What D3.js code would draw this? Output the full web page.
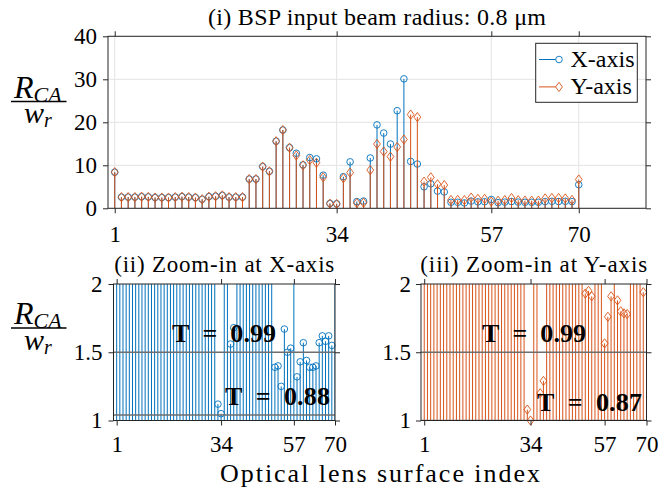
<!DOCTYPE html>
<html><head><meta charset="utf-8">
<script src="https://cdn.jsdelivr.net/npm/d3@7"></script>
<style>
body{margin:0;background:#fff}
svg{display:block}
text{font-family:"Liberation Serif","Times New Roman",serif;fill:#000}
</style>
</head><body>
<svg id="c" width="661" height="489"></svg>
<script>
// ---------- data ----------
const surfaceIndex = [1,2,3,4,5,6,7,8,9,10,11,12,13,14,15,16,17,18,19,20,21,22,23,24,25,26,27,28,29,30,31,32,33,34,35,36,37,38,39,40,41,42,43,44,45,46,47,48,49,50,51,52,53,54,55,56,57,58,59,60,61,62,63,64,65,66,67,68,69,70];
const xAxisRatio = [8.4,2.6,2.6,2.6,2.7,2.65,2.5,2.5,2.5,2.6,2.7,2.6,2.5,2.1,2.7,2.8,3.0,2.6,2.6,2.6,
  6.8,6.8,9.7,8.6,15.6,18.2,14.1,12.8,10.1,11.8,11.5,7.7,1.12,1.05,7.35,10.8,1.56,1.68,11.7,19.4,
  17.5,14.95,22.7,30.1,10.9,10.3,5.0,5.7,4.0,3.8,1.39,1.40,1.25,1.67,1.50,1.53,2.05,1.32,1.43,1.57,
  1.44,1.39,1.39,1.40,1.57,1.62,1.58,1.62,1.55,5.5];
const yAxisRatio = [8.4,2.6,2.6,2.6,2.7,2.65,2.5,2.5,2.5,2.6,2.7,2.6,2.5,2.1,2.7,2.8,3.0,2.6,2.6,2.6,
  6.8,6.8,9.7,8.6,15.6,18.2,14.1,12.3,10.0,11.2,10.6,7.2,1.08,1.0,7.0,8.3,1.20,1.29,8.9,14.95,
  13.2,12.0,14.25,16.0,21.8,21.2,6.2,7.2,5.6,5.4,1.93,1.95,1.91,2.5,2.2,2.2,1.565,1.76,1.91,2.4,
  1.88,1.80,1.785,1.78,2.3,2.4,2.4,2.3,1.94,6.7];
const xTickValues = [1,34,57,70];
const topYTicks = [0,10,20,30,40];
const zoomYTicks = [1,1.5,2];
const seriesNames = ["X-axis","Y-axis"];
const thresholdXValues = [1.5,1.04];
const thresholdXLabels = ["T\u2002=\u20020.99","T\u2002=\u20020.88"];
const thresholdYValues = [1.5,1.0];
const thresholdYLabels = ["T\u2002=\u20020.99","T\u2002=\u20020.87"];

// ---------- style ----------
const BLUE="#0072BD", ORANGE="#D95319", AX="#262626", GRID="#e3e3e3", THR="#6e6e6e";
const svg=d3.select("#c");
const defs=svg.append("defs");
const diamond="M0,-4.6L3.4,0L0,4.6L-3.4,0Z";

function drawPanel(cfg){
  const g=svg.append("g");
  const x=d3.scaleLinear().domain(cfg.xDomain).range([cfg.left,cfg.right]);
  const y=d3.scaleLinear().domain(cfg.yDomain).range([cfg.bottom,cfg.top]);
  const cid="clip"+cfg.id;
  defs.append("clipPath").attr("id",cid).append("rect")
    .attr("x",cfg.left).attr("y",cfg.top).attr("width",cfg.right-cfg.left).attr("height",cfg.bottom-cfg.top);
  if(cfg.grid){
    const gg=g.append("g");
    gg.selectAll("line.gx").data(xTickValues).join("line").attr("class","gx")
      .attr("x1",d=>x(d)).attr("x2",d=>x(d)).attr("y1",cfg.top).attr("y2",cfg.bottom)
      .attr("stroke",GRID).attr("stroke-width",1);
    gg.selectAll("line.gy").data(cfg.yTicks).join("line").attr("class","gy")
      .attr("x1",cfg.left).attr("x2",cfg.right).attr("y1",d=>y(d)).attr("y2",d=>y(d))
      .attr("stroke",GRID).attr("stroke-width",1);
  }
  cfg.series.forEach(s=>{
    const pts=s.values.map((v,i)=>({i:surfaceIndex[i],v}));
    g.append("g").attr("clip-path",`url(#${cid})`)
      .selectAll("line").data(pts).join("line")
      .attr("x1",d=>x(d.i)).attr("x2",d=>x(d.i))
      .attr("y1",y(0)).attr("y2",d=>y(d.v))
      .attr("stroke",s.color).attr("stroke-width",1);
    const inRange=pts.filter(d=>d.v>=cfg.yDomain[0]&&d.v<=cfg.yDomain[1]);
    const mg=g.append("g");
    if(s.marker==="circle"){
      mg.selectAll("circle").data(inRange).join("circle")
        .attr("cx",d=>x(d.i)).attr("cy",d=>y(d.v)).attr("r",3.3)
        .attr("fill","none").attr("stroke",s.color).attr("stroke-width",0.9);
    } else {
      mg.selectAll("path").data(inRange).join("path")
        .attr("transform",d=>`translate(${x(d.i)},${y(d.v)})`).attr("d",diamond)
        .attr("fill","none").attr("stroke",s.color).attr("stroke-width",0.9);
    }
  });
  if(cfg.thresholds){
    const tg=g.append("g").attr("clip-path",`url(#${cid})`);
    tg.selectAll("line").data(cfg.thresholds.values).join("line")
      .attr("x1",cfg.left).attr("x2",cfg.right).attr("y1",d=>y(d)).attr("y2",d=>y(d))
      .attr("stroke",THR).attr("stroke-width",1.6);
    const lg=g.append("g");
    cfg.thresholds.labels.forEach((t,k)=>{
      const p=cfg.thresholds.pos[k];
      lg.append("text").attr("x",p[0]).attr("y",p[1]).attr("text-anchor","start")
        .attr("font-weight","bold").attr("font-size",26)
        .attr("textLength",p[2]).attr("lengthAdjust","spacing").text(t);
    });
  }
  const styleAxis=(sel)=>{
    sel.select(".domain").remove();
    sel.selectAll(".tick line").attr("stroke",AX);
    sel.selectAll(".tick text").attr("font-family",'"Liberation Serif","Times New Roman",serif')
      .attr("font-size",23).attr("fill","#000");
    sel.attr("font-family",null).attr("font-size",null);
  };
  g.append("g").attr("transform",`translate(0,${cfg.bottom})`)
    .call(d3.axisBottom(x).tickValues(xTickValues).tickSize(5).tickPadding(cfg.xPad).tickFormat(d3.format("d")))
    .call(styleAxis);
  g.append("g").attr("transform",`translate(0,${cfg.top})`)
    .call(d3.axisTop(x).tickValues(xTickValues).tickSize(5).tickFormat(""))
    .call(styleAxis);
  g.append("g").attr("transform",`translate(${cfg.left},0)`)
    .call(d3.axisLeft(y).tickValues(cfg.yTicks).tickSize(5).tickPadding(cfg.yPad).tickFormat(d=>String(d)))
    .call(styleAxis);
  g.append("g").attr("transform",`translate(${cfg.right},0)`)
    .call(d3.axisRight(y).tickValues(cfg.yTicks).tickSize(5).tickFormat(""))
    .call(styleAxis);
  g.append("rect").attr("x",cfg.left).attr("y",cfg.top)
    .attr("width",cfg.right-cfg.left).attr("height",cfg.bottom-cfg.top)
    .attr("fill","none").attr("stroke",AX).attr("stroke-width",1);
  if(cfg.title){
    g.append("text").attr("x",(cfg.left+cfg.right)/2).attr("y",cfg.titleY)
      .attr("text-anchor","middle").attr("font-size",cfg.titleSize)
      .attr("textLength",cfg.titleLen).attr("lengthAdjust","spacing").text(cfg.title);
  }
  return {x,y,g};
}

const seriesAll=[
  {name:seriesNames[0],values:xAxisRatio,color:BLUE,marker:"circle"},
  {name:seriesNames[1],values:yAxisRatio,color:ORANGE,marker:"diamond"}
];

// top panel
drawPanel({id:"t",left:108,right:646,top:36.3,bottom:208.3,xDomain:[0,80],yDomain:[0,40],
  yTicks:topYTicks,grid:true,series:seriesAll,yPad:6,xPad:12,
  title:"(i) BSP input beam radius: 0.8 \u03BCm",titleY:25,titleSize:24,titleLen:338});

// legend
const legendG=svg.append("g");
legendG.append("rect").attr("x",535.7).attr("y",43.3).attr("width",101.6).attr("height",59)
  .attr("fill","#fff").attr("stroke",AX).attr("stroke-width",1);
seriesAll.forEach((s,k)=>{
  const cy=59.5+k*27.4;
  legendG.append("line").attr("x1",539).attr("x2",562).attr("y1",cy).attr("y2",cy).attr("stroke",s.color).attr("stroke-width",1);
  if(s.marker==="circle") legendG.append("circle").attr("cx",559).attr("cy",cy).attr("r",3.3).attr("fill","#fff").attr("stroke",s.color).attr("stroke-width",0.9);
  else legendG.append("path").attr("transform",`translate(559,${cy})`).attr("d",diamond).attr("fill","#fff").attr("stroke",s.color).attr("stroke-width",0.9);
  legendG.append("text").attr("x",570.5).attr("y",cy+7.5).attr("font-size",24).text(s.name);
});

// bottom-left panel
drawPanel({id:"bl",left:113.5,right:335,top:284,bottom:420.5,xDomain:[0,70],yDomain:[1,2],
  yTicks:zoomYTicks,grid:false,series:[seriesAll[0]],yPad:6,xPad:10,
  thresholds:{values:thresholdXValues,labels:thresholdXLabels,pos:[[172,342,104],[225,404.5,105]]},
  title:"(ii) Zoom-in at X-axis",titleY:272,titleSize:23,titleLen:220});

// bottom-right panel
drawPanel({id:"br",left:421,right:646.5,top:284,bottom:420.5,xDomain:[0,70],yDomain:[1,2],
  yTicks:zoomYTicks,grid:false,series:[seriesAll[1]],yPad:5,xPad:10,
  thresholds:{values:thresholdYValues,labels:thresholdYLabels,pos:[[482,342,104],[537,411,105]]},
  title:"(iii) Zoom-in at Y-axis",titleY:272,titleSize:23,titleLen:227});

// y-axis fraction labels (one text element each)
function fracLabel(lineY){
  const f=svg.append("g");
  const t=f.append("text").attr("font-style","italic");
  t.append("tspan").attr("x",14).attr("y",lineY-3.8).attr("font-size",32).text("R");
  t.append("tspan").attr("font-size",22).attr("dy",4).text("CA");
  t.append("tspan").attr("x",24).attr("y",lineY+21.5).attr("font-size",30).text("w");
  t.append("tspan").attr("font-size",20).attr("dy",4).text("r");
  f.append("line").attr("x1",11).attr("x2",66.5).attr("y1",lineY).attr("y2",lineY).attr("stroke","#000").attr("stroke-width",1.4);
}
fracLabel(101.5);
fracLabel(328);

// x-axis label
svg.append("text").attr("x",380).attr("y",482).attr("text-anchor","middle").attr("font-size",26)
  .attr("textLength",320).attr("lengthAdjust","spacing")
  .text("Optical lens surface index");
</script>
</body></html>
